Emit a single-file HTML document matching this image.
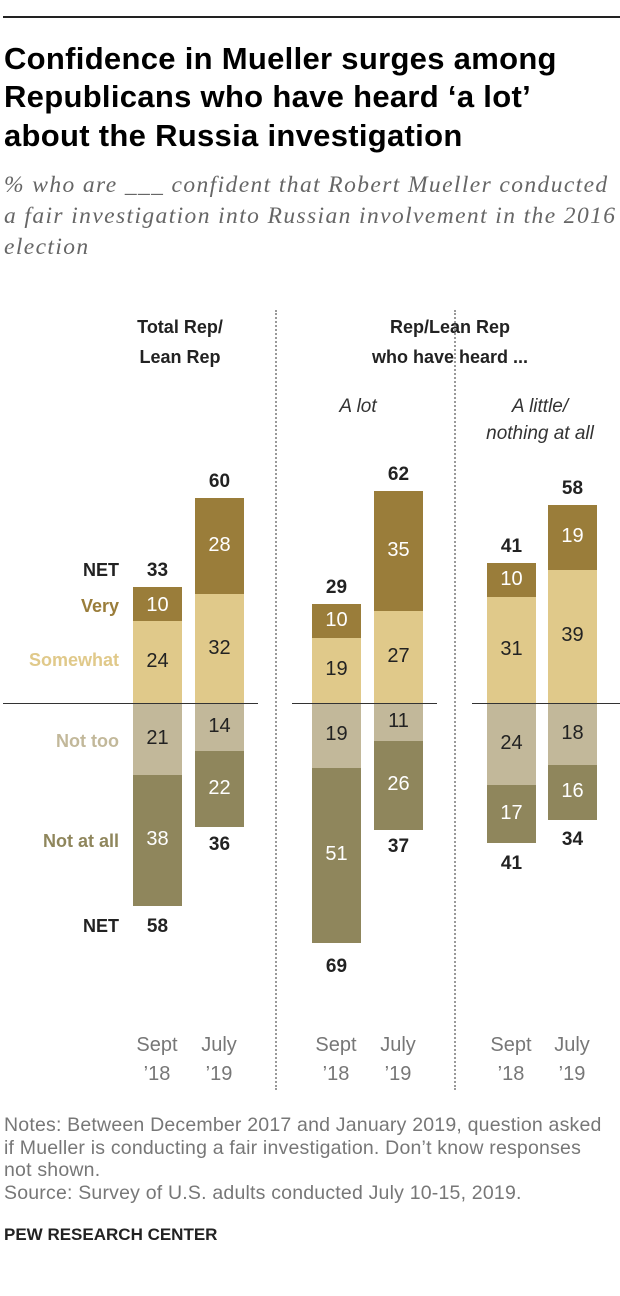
<!DOCTYPE html>
<html><head><meta charset="utf-8"><style>
body{margin:0;width:620px;height:1296px;background:#fff;position:relative;overflow:hidden;font-family:"Liberation Sans",sans-serif}
.a{position:absolute}
.t{font-family:"Liberation Sans Narrow","Liberation Sans",sans-serif;font-weight:bold;font-size:31px;color:#000;left:4px;line-height:39px;letter-spacing:0.3px}
.sub{font-family:"Liberation Serif",serif;font-style:italic;font-size:23.5px;color:#666;left:4px;line-height:31px;letter-spacing:1.4px;white-space:nowrap}
.b{position:absolute;width:49px}
.V{background:#9a7d3a}.S{background:#e0c98a}.N{background:#c2b89a}.X{background:#8f865c}
.n{position:absolute;width:49px;text-align:center;font-size:20px;font-family:"Liberation Sans Narrow","Liberation Sans",sans-serif}
.w{color:#fff}.k{color:#222}
.net{position:absolute;width:49px;text-align:center;font-size:19px;font-weight:bold;color:#222}
.lab{position:absolute;right:501px;text-align:right;font-size:18px;font-weight:bold;font-family:"Liberation Sans Narrow","Liberation Sans",sans-serif;white-space:nowrap}
.hd{position:absolute;text-align:center;font-size:18px;font-weight:bold;color:#222;line-height:30px}
.it{position:absolute;text-align:center;font-size:19px;font-style:italic;color:#333;line-height:27px}
.ax{position:absolute;width:60px;text-align:center;font-size:20px;color:#777;line-height:29px}
.base{position:absolute;top:703px;height:1px;background:#333}
.div{position:absolute;top:310px;height:780px;border-left:2px dotted #999}
.note{position:absolute;left:4px;font-size:19.5px;color:#777;line-height:22.7px;letter-spacing:0.2px;white-space:nowrap}
</style></head><body>
<div class="a" style="left:3px;top:16px;width:617px;height:2px;background:#222"></div>
<div class="a t" style="top:39px">Confidence in Mueller surges among</div>
<div class="a t" style="top:77px">Republicans who have heard ‘a lot’</div>
<div class="a t" style="top:116px">about the Russia investigation</div>
<div class="a sub" style="top:170px">% who are ___ confident that Robert Mueller conducted<br>a fair investigation into Russian involvement in the 2016<br>election</div>

<div class="div" style="left:275px"></div>
<div class="div" style="left:454px"></div>

<div class="hd" style="left:100px;width:160px;top:312px">Total Rep/<br>Lean Rep</div>
<div class="hd" style="left:350px;width:200px;top:312px">Rep/Lean Rep<br>who have heard ...</div>
<div class="it" style="left:308px;width:100px;top:393px">A lot</div>
<div class="it" style="left:465px;width:150px;top:393px">A little/<br>nothing at all</div>

<div class="b V" style="left:133px;top:587px;height:34px"></div>
<div class="b S" style="left:133px;top:621px;height:82px"></div>
<div class="b N" style="left:133px;top:703px;height:72px"></div>
<div class="b X" style="left:133px;top:775px;height:131px"></div>
<div class="b V" style="left:195px;top:498px;height:96px"></div>
<div class="b S" style="left:195px;top:594px;height:109px"></div>
<div class="b N" style="left:195px;top:703px;height:48px"></div>
<div class="b X" style="left:195px;top:751px;height:76px"></div>
<div class="b V" style="left:312px;top:604px;height:34px"></div>
<div class="b S" style="left:312px;top:638px;height:65px"></div>
<div class="b N" style="left:312px;top:703px;height:65px"></div>
<div class="b X" style="left:312px;top:768px;height:175px"></div>
<div class="b V" style="left:374px;top:491px;height:120px"></div>
<div class="b S" style="left:374px;top:611px;height:92px"></div>
<div class="b N" style="left:374px;top:703px;height:38px"></div>
<div class="b X" style="left:374px;top:741px;height:89px"></div>
<div class="b V" style="left:487px;top:563px;height:34px"></div>
<div class="b S" style="left:487px;top:597px;height:106px"></div>
<div class="b N" style="left:487px;top:703px;height:82px"></div>
<div class="b X" style="left:487px;top:785px;height:58px"></div>
<div class="b V" style="left:548px;top:505px;height:65px"></div>
<div class="b S" style="left:548px;top:570px;height:133px"></div>
<div class="b N" style="left:548px;top:703px;height:62px"></div>
<div class="b X" style="left:548px;top:765px;height:55px"></div>

<div class="base" style="left:3px;width:255px"></div>
<div class="base" style="left:292px;width:145px"></div>
<div class="base" style="left:472px;width:148px"></div>

<div class="n w" style="left:133px;top:594px">10</div>
<div class="n k" style="left:133px;top:650px">24</div>
<div class="n k" style="left:133px;top:727px">21</div>
<div class="n w" style="left:133px;top:828px">38</div>
<div class="n w" style="left:195px;top:534px">28</div>
<div class="n k" style="left:195px;top:637px">32</div>
<div class="n k" style="left:195px;top:715px">14</div>
<div class="n w" style="left:195px;top:777px">22</div>
<div class="n w" style="left:312px;top:609px">10</div>
<div class="n k" style="left:312px;top:658px">19</div>
<div class="n k" style="left:312px;top:723px">19</div>
<div class="n w" style="left:312px;top:843px">51</div>
<div class="n w" style="left:374px;top:539px">35</div>
<div class="n k" style="left:374px;top:645px">27</div>
<div class="n k" style="left:374px;top:710px">11</div>
<div class="n w" style="left:374px;top:773px">26</div>
<div class="n w" style="left:487px;top:568px">10</div>
<div class="n k" style="left:487px;top:638px">31</div>
<div class="n k" style="left:487px;top:732px">24</div>
<div class="n w" style="left:487px;top:802px">17</div>
<div class="n w" style="left:548px;top:525px">19</div>
<div class="n k" style="left:548px;top:624px">39</div>
<div class="n k" style="left:548px;top:722px">18</div>
<div class="n w" style="left:548px;top:780px">16</div>

<div class="net" style="left:133px;top:560px">33</div>
<div class="net" style="left:195px;top:471px">60</div>
<div class="net" style="left:312px;top:577px">29</div>
<div class="net" style="left:374px;top:464px">62</div>
<div class="net" style="left:487px;top:536px">41</div>
<div class="net" style="left:548px;top:478px">58</div>
<div class="net" style="left:133px;top:916px">58</div>
<div class="net" style="left:195px;top:834px">36</div>
<div class="net" style="left:312px;top:956px">69</div>
<div class="net" style="left:374px;top:836px">37</div>
<div class="net" style="left:487px;top:853px">41</div>
<div class="net" style="left:548px;top:829px">34</div>

<div class="lab" style="top:560px;color:#222">NET</div>
<div class="lab" style="top:596px;color:#9a7d3a">Very</div>
<div class="lab" style="top:650px;color:#e0c98a">Somewhat</div>
<div class="lab" style="top:731px;color:#c2b89a">Not too</div>
<div class="lab" style="top:831px;color:#8f865c">Not at all</div>
<div class="lab" style="top:916px;color:#222">NET</div>

<div class="ax" style="left:127px;top:1031px">Sept<br>’18</div>
<div class="ax" style="left:189px;top:1031px">July<br>’19</div>
<div class="ax" style="left:306px;top:1031px">Sept<br>’18</div>
<div class="ax" style="left:368px;top:1031px">July<br>’19</div>
<div class="ax" style="left:481px;top:1031px">Sept<br>’18</div>
<div class="ax" style="left:542px;top:1031px">July<br>’19</div>

<div class="note" style="top:1114px">Notes: Between December 2017 and January 2019, question asked<br>if Mueller is conducting a fair investigation. Don’t know responses<br>not shown.<br>Source: Survey of U.S. adults conducted July 10-15, 2019.</div>
<div class="a" style="left:4px;top:1225px;font-size:17px;font-weight:bold;color:#222;font-family:'Liberation Sans Narrow','Liberation Sans',sans-serif">PEW RESEARCH CENTER</div>
</body></html>
